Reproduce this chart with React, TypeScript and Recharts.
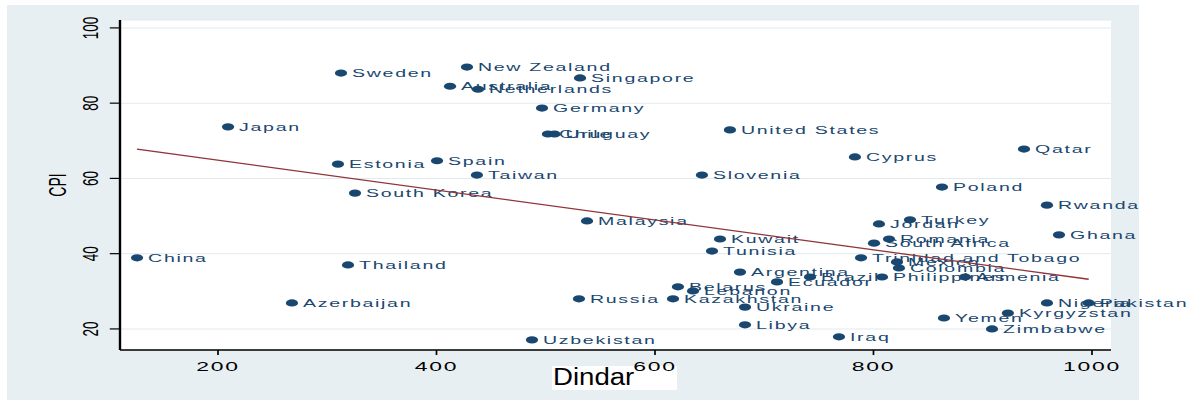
import React from 'react';
import { CartesianGrid, Scatter, ScatterChart, XAxis, YAxis } from 'recharts';

// country scores (x = Dindar, y = CPI)
const countries = [
  'Sweden', 'New Zealand', 'Australia', 'Netherlands', 'Singapore', 'Germany',
  'Chile', 'Uruguay', 'United States', 'Japan', 'Estonia', 'Spain', 'Taiwan',
  'Slovenia', 'South Korea', 'Cyprus', 'Qatar', 'Poland', 'Rwanda', 'Ghana',
  'Jordan', 'Turkey', 'South Africa', 'Romania', 'Trinidad and Tobago', 'Mexico',
  'Colombia', 'Argentina', 'Ecuador', 'Brazil', 'Philippines', 'Armenia', 'Kuwait',
  'Tunisia', 'Malaysia', 'China', 'Thailand', 'Azerbaijan', 'Russia', 'Kazakhstan',
  'Belarus', 'Lebanon', 'Ukraine', 'Libya', 'Uzbekistan', 'Iraq', 'Yemen',
  'Zimbabwe', 'Kyrgyzstan', 'Nigeria', 'Pakistan',
];
const dindar = [
  312.6, 427.9, 412.4, 438, 531.4, 496.6,
  502, 508, 668.6, 209.2, 309.8, 400.5, 437,
  643, 325.4, 783, 937.8, 862.7, 958.8, 969.8,
  805, 833.4, 800.5, 814.2, 788.6, 821.5,
  823.3, 677.8, 711.7, 741.9, 807.8, 883.8, 659.5,
  652.2, 537.8, 125.9, 319, 267.7, 530.4, 616.5,
  621, 634.8, 682.4, 682.4, 487.4, 768.4, 864.5,
  908.5, 923, 958.8, 997,
];
const cpi = [
  88.0, 89.6, 84.5, 83.7, 86.7, 78.7,
  71.8, 71.8, 72.9, 73.7, 63.8, 64.7, 60.9,
  60.9, 56.1, 65.7, 67.8, 57.7, 52.9, 45.0,
  47.9, 49.0, 42.8, 43.9, 38.9, 37.8,
  36.2, 35.1, 32.5, 33.8, 33.8, 33.8, 43.9,
  40.7, 48.7, 38.9, 37.0, 26.9, 28.0, 28.0,
  31.2, 30.1, 25.8, 21.1, 17.1, 17.9, 22.9,
  20.0, 24.2, 26.9, 26.9,
];

// fitted line end points
const fitDindar = [125.9, 997];
const fitCpi = [67.8, 33.2];

const xTicks = [200, 400, 600, 800, 1000];
const yTicks = [20, 40, 60, 80, 100];

const points = countries.map((country, i) => ({ country, dindar: dindar[i], cpi: cpi[i] }));
const fit = fitDindar.map((d, i) => ({ dindar: d, cpi: fitCpi[i] }));

const NAVY = '#1a476f';
const MAROON = '#90353b';
const FONT = '"Liberation Sans", Arial, Helvetica, sans-serif';
// the original graph is stretched sideways
const STRETCH = 1.7;
const CHART_W = 1194 / STRETCH;

const CountryPoint = (props: any) => {
  const { cx, cy, payload } = props;
  if (cx == null || cy == null) return <g />;
  return (
    <g>
      <circle cx={cx} cy={cy} r={3.6} fill={NAVY} />
      <text
        x={cx + 6.5}
        y={cy}
        dy="0.36em"
        fontSize={11.5}
        letterSpacing={1}
        fill={NAVY}
        fontFamily={FONT}
      >
        {payload.country}
      </text>
    </g>
  );
};

const XTick = ({ x, y, payload }: any) => (
  <text
    x={x}
    y={y + 11}
    textAnchor="middle"
    dominantBaseline="central"
    fontSize={13.5}
    letterSpacing={1}
    fill="#000"
    fontFamily={FONT}
  >
    {payload.value}
  </text>
);

const YTick = ({ x, y, payload }: any) => {
  const tx = x - 11.7;
  return (
    <text
      x={tx}
      y={y}
      transform={`rotate(-90 ${tx} ${y})`}
      textAnchor="middle"
      dominantBaseline="central"
      fontSize={13.5}
      fill="#000"
      fontFamily={FONT}
    >
      {payload.value}
    </text>
  );
};

const CpiLabel = (props: any) => {
  const vb = props.viewBox || { x: 0, y: 20, width: 70.6, height: 330 };
  const cx = vb.x + vb.width - 37;
  const cy = vb.y + vb.height / 2;
  return (
    <text
      x={cx}
      y={cy}
      transform={`rotate(-90 ${cx} ${cy})`}
      textAnchor="middle"
      dominantBaseline="central"
      fontSize={14}
      fill="#000"
      fontFamily={FONT}
    >
      CPI
    </text>
  );
};

const App = () => {
  return (
    <div style={{ position: 'absolute', left: 0, top: 0, width: 1194, height: 403, overflow: 'hidden', background: '#fff' }}>
      <div style={{ position: 'absolute', left: 7, top: 5, width: 1132, height: 395, background: '#e8eff2' }} />
      <div style={{ position: 'absolute', left: 552, top: 366, width: 125, height: 24, background: '#fff' }} />
      <div
        style={{
          position: 'absolute',
          left: 0,
          top: 0,
          width: CHART_W,
          height: 403,
          transform: `scaleX(${STRETCH})`,
          transformOrigin: '0 0',
        }}
      >
        <ScatterChart
          width={CHART_W}
          height={403}
          margin={{ top: 20, right: CHART_W - 1111 / STRETCH, bottom: 0, left: 0 }}
          style={{ overflow: 'visible' }}
        >
          <CartesianGrid vertical={false} stroke="#e1eaee" fill="#ffffff" />
          <XAxis
            type="number"
            dataKey="dindar"
            domain={[110.3, 1017.4]}
            ticks={xTicks}
            interval={0}
            height={53}
            tickSize={5}
            tickMargin={0}
            tick={<XTick />}
            axisLine={{ stroke: '#000', strokeWidth: 1.6 }}
            tickLine={{ stroke: '#000', strokeWidth: 1 }}
          />
          <YAxis
            type="number"
            dataKey="cpi"
            domain={[14.4, 102.1]}
            ticks={yTicks}
            interval={0}
            width={120 / STRETCH}
            tickSize={6}
            tickMargin={0}
            tick={<YTick />}
            axisLine={{ stroke: '#000', strokeWidth: 1.4 }}
            tickLine={{ stroke: '#000', strokeWidth: 1.2 }}
            label={<CpiLabel />}
          />
          <Scatter data={points} shape={<CountryPoint />} isAnimationActive={false} />
          <Scatter
            data={fit}
            line={{ stroke: MAROON, strokeWidth: 1.3 }}
            shape={() => <g />}
            isAnimationActive={false}
          />
        </ScatterChart>
      </div>
      <div
        style={{
          position: 'absolute',
          left: 553,
          top: 364,
          height: 26,
          lineHeight: '26px',
          fontSize: 23,
          fontFamily: FONT,
          color: '#000',
          transform: 'scaleX(1.2)',
          transformOrigin: '0 0',
          whiteSpace: 'nowrap',
        }}
      >
        Dindar
      </div>
    </div>
  );
};

export default App;
